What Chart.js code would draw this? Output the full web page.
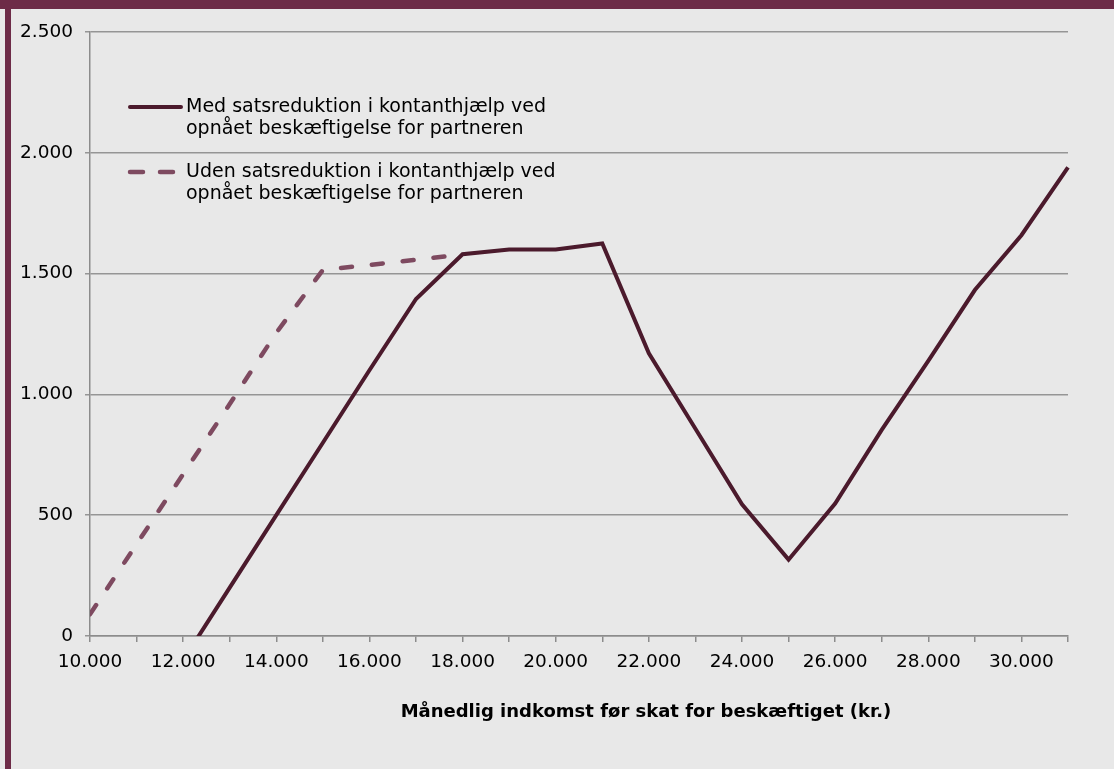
<!DOCTYPE html>
<html lang="da">
<head>
<meta charset="utf-8">
<script src="https://cdn.jsdelivr.net/npm/chart.js@4.4.0/dist/chart.umd.min.js"></script>
<style>
  html, body { margin: 0; padding: 0; }
  body { width: 1114px; height: 769px; background: #e8e8e8; position: relative; overflow: hidden; }
  .bar-top { position: absolute; left: 0; top: 0; width: 1114px; height: 9px; background: #6d2b47; }
  .bar-left { position: absolute; left: 5px; top: 0; width: 6px; height: 769px; background: #6d2b47; }
  .wrap { position: absolute; left: 0; top: 0; width: 1114px; height: 769px; }
</style>
</head>
<body>
<div class="bar-top"></div>
<div class="bar-left"></div>
<div class="wrap"><canvas id="myChart"></canvas></div>
<script>
// Månedlig indkomst (kr.) - x kategorier
const incomes = [10000, 11000, 12000, 13000, 14000, 15000, 16000, 17000, 18000, 19000, 20000,
  21000, 22000, 23000, 24000, 25000, 26000, 27000, 28000, 29000, 30000, 31000];

const medReduktion = [null, null, -100, 200, 500, 800, 1100, 1395, 1580, 1600, 1600,
  1625, 1170, 858, 545, 316, 548, 853, 1139, 1432, 1659, 1940];

const udenReduktion = [90, 380, 670, 960, 1255, 1515, 1536, 1557, 1580, null, null,
  null, null, null, null, null, null, null, null, null, null, null];

const legendLabels = [
  ['Med satsreduktion i kontanthjælp ved', 'opnået beskæftigelse for partneren'],
  ['Uden satsreduktion i kontanthjælp ved', 'opnået beskæftigelse for partneren']
];
const xTitle = 'Månedlig indkomst før skat for beskæftiget (kr.)';

const fontFam = '"DejaVu Sans", Verdana, sans-serif';

function fmt(n) {
  return String(n).replace(/\B(?=(\d{3})+(?!\d))/g, '.');
}

// legend inde i plottet + x-aksens titel
const extras = {
  id: 'extras',
  afterDraw(chart) {
    const c = chart.ctx;
    c.save();
    c.font = '19px ' + fontFam;
    c.fillStyle = '#000';
    c.textBaseline = 'middle';
    const rows = [107, 172];
    chart.data.datasets.forEach((ds, i) => {
      const y = rows[i];
      c.strokeStyle = ds.borderColor;
      c.lineWidth = ds.borderWidth;
      c.lineCap = 'round';
      c.setLineDash(ds.borderDash ? [13, 17] : []);
      c.beginPath();
      c.moveTo(130, y);
      c.lineTo(181, y);
      c.stroke();
      c.setLineDash([]);
      legendLabels[i].forEach((t, j) => c.fillText(t, 186, y + j * 22.5));
    });
    c.font = 'bold 18px ' + fontFam;
    c.textAlign = 'center';
    c.fillText(xTitle, 646, 712);
    c.restore();
  }
};

const ctx = document.getElementById('myChart');

new Chart(ctx, {
  type: 'line',
  data: {
    labels: incomes,
    datasets: [{
      label: legendLabels[0].join(' '),
      data: medReduktion,
      borderColor: '#4b1a2c',
      borderWidth: 4,
      pointRadius: 0,
      tension: 0,
      clip: {left: 0, top: 0, right: 5, bottom: 0}
    }, {
      label: legendLabels[1].join(' '),
      data: udenReduktion,
      borderColor: '#7e4a60',
      borderWidth: 4.5,
      borderDash: [11, 20],
      borderCapStyle: 'round',
      pointRadius: 0,
      tension: 0,
      clip: 0
    }]
  },
  options: {
    responsive: true,
    maintainAspectRatio: false,
    animation: false,
    layout: { padding: { left: 0, top: 32, right: 46, bottom: 0 } },
    plugins: {
      legend: { display: false },
      tooltip: { enabled: false }
    },
    scales: {
      x: {
        offset: false,
        afterFit: s => { s.height = 133; },
        border: { color: '#8c8c8c', width: 1.5 },
        grid: { drawOnChartArea: false, color: '#8c8c8c', lineWidth: 1.5, tickLength: 6 },
        ticks: {
          autoSkip: false,
          maxRotation: 0,
          padding: 9,
          color: '#000',
          font: { family: fontFam, size: 18.5 },
          callback: (v, i) => i % 2 === 0 ? fmt(incomes[i]) : ''
        }
      },
      y: {
        min: 0,
        max: 2500,
        afterFit: s => { s.width = 90; },
        border: { color: '#8c8c8c', width: 1.5 },
        grid: { color: '#959595', lineWidth: 1.5, tickLength: 5 },
        ticks: {
          stepSize: 500,
          padding: 12,
          color: '#000',
          font: { family: fontFam, size: 18.5 },
          callback: v => fmt(v)
        }
      }
    }
  },
  plugins: [extras]
});
</script>
</body>
</html>
